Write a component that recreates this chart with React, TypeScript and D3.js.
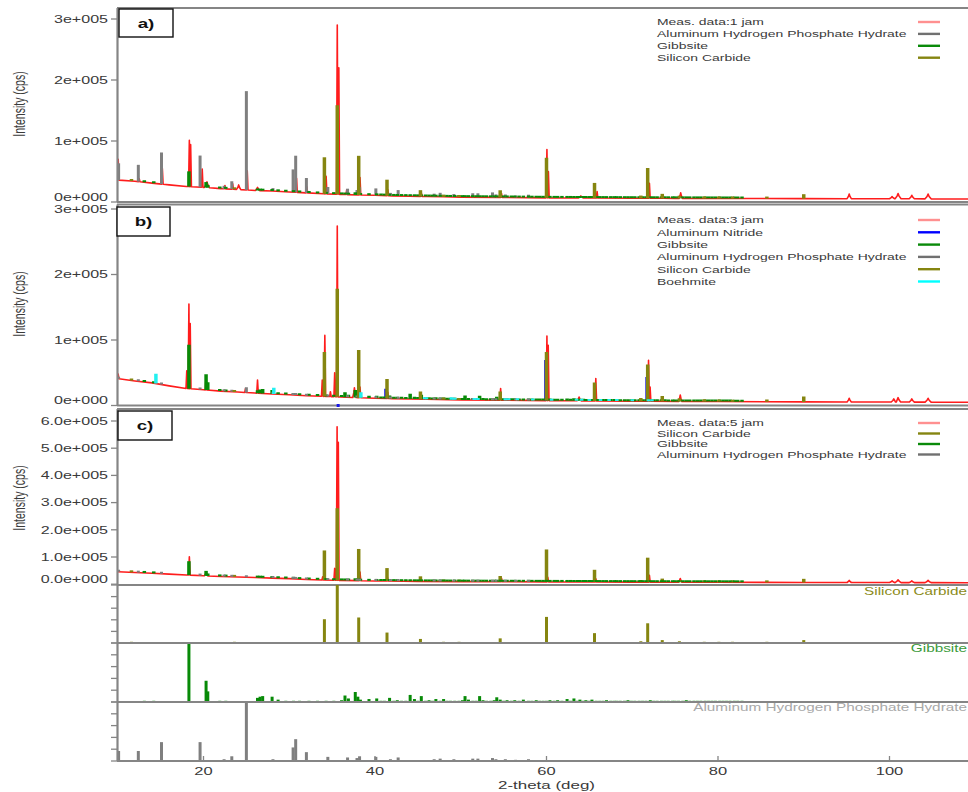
import React from 'react';
import * as d3 from 'd3';

type Pt = [number, number];
type Pk = [number, number, number?];

// ---------- data ----------
const TTH_DOMAIN: Pt = [10, 110];
const X_TICKS = [20, 40, 60, 80, 100];

const Y_TICKS_AB = [0, 100000, 200000, 300000];
const Y_LABELS_AB = ['0e+000', '1e+005', '2e+005', '3e+005'];
const Y_TICKS_C = [0, 100000, 200000, 300000, 400000, 500000, 600000];
const Y_LABELS_C = ['0.0e+000', '1.0e+005', '2.0e+005', '3.0e+005', '4.0e+005', '5.0e+005', '6.0e+005'];
const REF_TICKS = [0, 20, 40, 60, 80, 100];

// background of measured patterns [2theta, cps]
const BG_A: Pt[] = [[10, 36000], [12, 34000], [14, 31000], [16, 28000], [18, 25500], [20, 24000], [22, 22000], [24, 20500], [26, 19000], [28, 18000], [30, 16500], [32, 15000], [34, 13500], [36, 12500], [38, 11500], [40, 11000], [42, 10000], [44, 9500], [46, 9000], [48, 8500], [50, 8000], [55, 7500], [60, 6800], [65, 6500], [70, 6200], [75, 6000], [80, 5800], [90, 5500], [100, 5300], [110, 5000]];
const BG_B: Pt[] = [[10, 41000], [12, 37500], [14, 34500], [16, 30000], [18, 26000], [20, 24000], [22, 22000], [24, 20500], [26, 19000], [28, 17500], [30, 16500], [32, 15000], [34, 14000], [36, 13000], [38, 12000], [40, 11000], [42, 10500], [44, 10000], [46, 9500], [50, 8500], [55, 8000], [60, 7500], [65, 7000], [70, 6500], [80, 6000], [90, 5500], [100, 5300], [110, 5000]];
const BG_C: Pt[] = [[10, 46000], [12, 43000], [14, 40000], [16, 37000], [18, 34000], [20, 31000], [22, 28500], [24, 26500], [26, 24500], [28, 22500], [30, 20500], [32, 17500], [34, 15500], [36, 14000], [38, 13000], [40, 12000], [45, 10500], [50, 9500], [55, 9000], [60, 8500], [65, 8000], [70, 7500], [80, 7000], [90, 6500], [100, 6000], [110, 5500]];

// measured peak tops [2theta, cps, half-width deg (optional)]
const PEAKS_A: Pk[] = [[10.05, 70000], [12.5, 38000], [15.2, 55000], [18.35, 101000], [18.5, 94000], [19.85, 54000], [20.4, 33000, 0.3], [22.5, 27000], [23.4, 30000], [24.1, 28000, 0.25], [25.1, 51000], [26.3, 24000, 0.25], [30.85, 39000], [32.05, 25000], [34.3, 42000], [35.6, 290000], [35.78, 220000], [36.7, 20000], [38.25, 40000], [41.5, 20000], [45.4, 15000], [54.75, 14000], [60.05, 86000], [60.22, 50000], [64.0, 10000, 0.3], [65.9, 17000], [72.0, 30600], [73.6, 11000], [75.65, 15000, 0.2], [95.3, 13000, 0.25], [100.3, 9000, 0.3], [101.0, 14000, 0.35], [102.6, 11000, 0.3], [104.5, 13000, 0.35]];
const PEAKS_B: Pk[] = [[10.05, 48000], [18.05, 53000], [18.3, 155000], [18.45, 125000], [20.3, 45000], [24.9, 26000], [26.3, 39000], [33.85, 39000], [34.15, 107000], [34.8, 21000], [35.3, 50000], [35.6, 274000], [37.6, 27000, 0.2], [38.25, 28000], [41.5, 20000], [54.65, 26000], [60.05, 106000], [60.2, 92000], [63.8, 13000, 0.25], [65.75, 41000], [71.9, 69000], [72.08, 28000], [75.6, 16000, 0.2], [95.3, 11000, 0.25], [100.5, 10000, 0.3], [101.0, 12000, 0.3], [102.6, 10000, 0.3], [104.5, 11000, 0.35]];
const PEAKS_C: Pk[] = [[18.35, 101000], [20.3, 45000, 0.2], [33.9, 27000], [35.3, 58000], [35.58, 579000], [35.72, 522000], [38.25, 45000], [41.45, 25000], [54.75, 22000], [60.15, 25000], [65.75, 20000], [72.0, 33000], [75.6, 21000, 0.2], [95.3, 14000, 0.25], [100.3, 12000, 0.3], [101.0, 16000, 0.35], [102.6, 12000, 0.3], [104.5, 14000, 0.35]];

// reference patterns [2theta, relative intensity %]
const SIC_REF: Pt[] = [[11.6, 1], [23.6, 1], [34.1, 41], [35.6, 100], [38.1, 44], [41.4, 18], [45.3, 7], [48.0, 1], [49.8, 1], [54.6, 8], [60.0, 45], [65.6, 17], [71.0, 3], [71.8, 34], [73.5, 5], [75.5, 3], [78.4, 2], [80.1, 1], [81.7, 1], [85.7, 2], [90.0, 5]];
const GIBBSITE_REF: Pt[] = [[13.1, 1], [14.2, 1], [18.3, 100], [20.3, 36], [20.5, 18], [21.9, 1], [22.6, 1], [26.3, 7], [26.6, 9], [26.9, 10], [28.0, 9], [28.7, 4], [29.6, 1], [30.5, 1], [31.2, 1], [32.3, 2], [33.3, 2], [34.3, 1], [35.2, 1], [36.1, 3], [36.5, 11], [36.9, 6], [37.7, 17], [38.0, 9], [38.3, 4], [39.3, 5], [40.2, 6], [40.7, 2], [41.1, 2], [41.7, 7], [42.2, 2], [42.6, 3], [43.1, 2], [43.6, 2], [44.1, 12], [44.6, 5], [45.0, 2], [45.4, 10], [45.9, 2], [46.3, 3], [46.7, 2], [47.1, 5], [47.6, 2], [48.0, 5], [48.4, 2], [48.8, 2], [49.3, 2], [49.8, 2], [50.2, 3], [50.5, 10], [50.9, 4], [51.4, 2], [51.8, 2], [52.2, 10], [52.6, 3], [53.0, 2], [53.5, 2], [53.9, 3], [54.2, 8], [54.6, 4], [55.0, 2], [55.4, 3], [55.9, 2], [56.3, 3], [56.8, 2], [57.3, 4], [57.9, 2], [58.3, 2], [58.8, 3], [59.2, 2], [59.6, 2], [60.0, 2], [60.4, 3], [60.9, 2], [61.3, 3], [61.8, 2], [62.4, 5], [62.8, 2], [63.2, 6], [63.6, 2], [63.9, 4], [64.3, 2], [64.6, 3], [65.0, 2], [65.3, 4], [65.8, 2], [66.2, 2], [66.6, 2], [67.0, 3], [67.5, 2], [67.9, 2], [68.2, 2], [68.6, 2], [69.1, 2], [69.5, 3], [69.9, 2], [70.3, 2], [70.8, 2], [71.2, 2], [71.6, 2], [72.1, 3], [72.5, 2], [72.9, 2], [73.4, 2], [73.8, 2], [74.2, 2], [74.7, 2], [75.0, 2], [75.4, 2], [75.9, 2], [76.3, 3], [76.7, 2], [77.2, 2], [77.6, 2], [78.0, 2], [78.5, 2], [78.9, 2], [79.3, 2], [79.7, 2], [80.2, 2], [80.6, 2], [81.0, 2], [81.4, 2], [81.9, 2], [82.3, 2], [82.8, 1]];
const AHPH_REF: Pt[] = [[10.1, 17], [12.4, 17], [15.1, 32], [19.6, 32], [22.4, 3], [23.3, 8], [25.0, 100], [28.1, 3], [30.45, 23], [30.75, 37], [32.0, 15], [34.5, 7], [36.8, 6], [37.9, 5], [38.2, 8], [40.1, 7], [41.8, 3], [42.7, 6], [46.9, 3], [47.6, 4], [49.2, 3], [51.4, 4], [52.0, 4], [53.7, 5], [54.1, 3], [55.2, 3], [56.4, 2], [57.9, 3]];
const BOEHMITE_REF: Pt[] = [[14.45, 100], [28.2, 65], [38.35, 55], [45.8, 12], [46.0, 8], [48.9, 25], [49.3, 20], [51.6, 10], [52.0, 6], [55.2, 12], [55.6, 8], [56.6, 6], [58.4, 6], [60.6, 10], [63.5, 8], [64.1, 12], [65.0, 10], [66.3, 6], [67.3, 8], [68.2, 6], [70.0, 5], [71.9, 10], [72.3, 6]];
const ALN_REF: Pt[] = [[35.7, 0], [41.25, 24], [59.9, 100], [71.7, 60]];

// stick scale (cps for 100 %) of each phase in each measured panel
const SCALE_A = { ahph: 162000, gibbsite: 25000, sic: 146000 };
const SCALE_B = { aln: 62000, gibbsite: 67000, ahph: 8000, sic: 165000, boehmite: 15000 };
const SCALE_C = { sic: 265000, gibbsite: 51000, ahph: 6000 };

const LEGEND_A = ['Meas. data:1 jam', 'Aluminum Hydrogen Phosphate Hydrate', 'Gibbsite', 'Silicon Carbide'];
const LEGEND_B = ['Meas. data:3 jam', 'Aluminum Nitride', 'Gibbsite', 'Aluminum Hydrogen Phosphate Hydrate', 'Silicon Carbide', 'Boehmite'];
const LEGEND_C = ['Meas. data:5 jam', 'Silicon Carbide', 'Gibbsite', 'Aluminum Hydrogen Phosphate Hydrate'];

// ---------- style ----------
const FONT = '"Liberation Sans", Arial, sans-serif';
const SX = 1.5;
const C = {
  meas: '#ff1c1c',
  measLegend: '#ff9090',
  ahph: '#7f7f7f',
  gibbsite: '#078a07',
  sic: '#858510',
  aln: '#1515e8',
  boehmite: '#22f0f0',
  axis: '#858585',
  text: '#3a3a3a',
};
const LEGEND_COLORS: Record<string, string> = {
  'Aluminum Hydrogen Phosphate Hydrate': '#707070',
  Gibbsite: '#0a8a0a',
  'Silicon Carbide': '#858510',
  'Aluminum Nitride': '#0000ff',
  Boehmite: '#00ffff',
};

const W = 968;
const H = 792;
const x = d3.scaleLinear().domain(TTH_DOMAIN).range([117.75, 975.25]);

function T(props: { x: number; y: number; size: number; anchor?: string; fill?: string; weight?: string; children: React.ReactNode }) {
  const { x: tx, y: ty, size, anchor = 'start', fill = C.text, weight = 'normal', children } = props;
  return (
    <text transform={`translate(${tx},${ty}) scale(${SX},1)`} fontSize={size} textAnchor={anchor as any} fill={fill} fontWeight={weight} fontFamily={FONT}>
      {children}
    </text>
  );
}

const bgScale = (bg: Pt[]) => d3.scaleLinear().domain(bg.map(d => d[0])).range(bg.map(d => d[1])).clamp(true);

function measuredPath(bg: Pt[], peaks: Pk[], y: d3.ScaleLinear<number, number>) {
  const b = bgScale(bg);
  const hwDefault = 0.09;
  const pts: Pt[] = bg
    .filter(([t]) => !peaks.some(([p, , w]) => Math.abs(p - t) < (w ?? hwDefault) * 1.5))
    .map(d => [d[0], d[1]] as Pt);
  peaks.forEach(([p, v, w]) => {
    const hw = w ?? hwDefault;
    if (w) {
      pts.push([p - hw, b(p - hw)], [p - hw * 0.35, (b(p) + v) / 2], [p, v], [p + hw * 0.35, (b(p) + v) / 2], [p + hw, b(p + hw)]);
    } else {
      pts.push([p - hw, b(p - hw)], [p, v], [p + hw, b(p + hw)]);
    }
  });
  pts.sort((a, c) => a[0] - c[0]);
  return d3.line<Pt>().x(d => x(d[0])).y(d => y(d[1]))(pts) || '';
}

function Sticks(props: { data: Pt[]; scale: number; bg: Pt[]; y: d3.ScaleLinear<number, number>; color: string; width?: number; minPx?: number }) {
  const { data, scale, bg, y, color, width = 3.5, minPx = 2 } = props;
  const b = bgScale(bg);
  return (
    <g>
      {data.map(([t, r], i) => {
        const base = b(t);
        const y1 = y(base);
        let y2 = y(base + (r / 100) * scale);
        if (y1 - y2 < minPx) y2 = y1 - minPx;
        return <line key={i} x1={x(t)} x2={x(t)} y1={y1} y2={y2} stroke={color} strokeWidth={width} />;
      })}
    </g>
  );
}

function YAxis(props: { y: d3.ScaleLinear<number, number>; ticks: number[]; labels: string[] }) {
  const { y, ticks, labels } = props;
  return (
    <g>
      {ticks.map((t, i) => (
        <g key={i}>
          <line x1={111} x2={117} y1={y(t)} y2={y(t)} stroke={C.axis} strokeWidth={1.3} />
          <T x={108} y={y(t) + 3.8 - (t === 0 ? 5 : 0)} size={10.7} anchor="end">{labels[i]}</T>
        </g>
      ))}
    </g>
  );
}

function Frame(props: { top: number; bottom: number }) {
  const { top, bottom } = props;
  return (
    <g>
      <line x1={117} x2={W} y1={top} y2={top} stroke={C.axis} strokeWidth={2} />
      <line x1={117} x2={W} y1={bottom} y2={bottom} stroke={C.axis} strokeWidth={2} />
      <line x1={117.5} x2={117.5} y1={top} y2={bottom} stroke={C.axis} strokeWidth={2.2} />
    </g>
  );
}

function Legend(props: { labels: string[]; y0: number; dy: number }) {
  const { labels, y0, dy } = props;
  return (
    <g>
      {labels.map((l, i) => {
        const yy = y0 + i * dy;
        const col = i === 0 ? C.measLegend : LEGEND_COLORS[l];
        return (
          <g key={i}>
            <T x={657} y={yy + 3.3} size={9.3}>{l}</T>
            <line x1={918} x2={940} y1={yy} y2={yy} stroke={col} strokeWidth={2.4} />
          </g>
        );
      })}
    </g>
  );
}

function PanelLabel(props: { bx: number; by: number; bw: number; bh: number; label: string }) {
  const { bx, by, bw, bh, label } = props;
  return (
    <g>
      <rect x={bx} y={by} width={bw} height={bh} fill="#fff" stroke="#111" strokeWidth={1.4} />
      <T x={bx + bw / 2} y={by + bh / 2 + 4.5} size={12.5} anchor="middle" weight="bold" fill="#111">{label}</T>
    </g>
  );
}

function YTitle(props: { cy: number }) {
  return (
    <text transform={`translate(25,${props.cy}) scale(${SX},1) rotate(-90)`} fontSize={10.5} textAnchor="middle" fill={C.text} fontFamily={FONT}>
      Intensity (cps)
    </text>
  );
}

export default function App() {
  const yA = d3.scaleLinear().domain([0, 300000]).range([202, 19]);
  const yB = d3.scaleLinear().domain([0, 300000]).range([405.5, 209]);
  const yC = d3.scaleLinear().domain([0, 600000]).range([584.2, 421]);
  const ySic = d3.scaleLinear().domain([0, 100]).range([643, 585]);
  const yGib = d3.scaleLinear().domain([0, 100]).range([702, 643]);
  const yAh = d3.scaleLinear().domain([0, 100]).range([761, 702]);
  const ZERO_BG: Pt[] = [[10, 0], [110, 0]];

  return (
    <svg width={W} height={H} viewBox={`0 0 ${W} ${H}`} style={{ position: 'absolute', left: 0, top: 0, background: '#fff', display: 'block' }}>
      <defs>
        <clipPath id="cA"><rect x={118} y={8} width={W} height={194} /></clipPath>
        <clipPath id="cB"><rect x={118} y={204} width={W} height={201.5} /></clipPath>
        <clipPath id="cC"><rect x={118} y={409} width={W} height={176} /></clipPath>
      </defs>
      <rect x={0} y={0} width={W} height={H} fill="#fff" />

      {/* Panel a */}
      <g clipPath="url(#cA)">
        <path d={measuredPath(BG_A, PEAKS_A, yA)} fill="none" stroke={C.meas} strokeWidth={1.6} strokeLinejoin="round" />
        <Sticks data={AHPH_REF} scale={SCALE_A.ahph} bg={BG_A} y={yA} color={C.ahph} width={3} />
        <Sticks data={GIBBSITE_REF} scale={SCALE_A.gibbsite} bg={BG_A} y={yA} color={C.gibbsite} />
        <Sticks data={SIC_REF} scale={SCALE_A.sic} bg={BG_A} y={yA} color={C.sic} />
      </g>
      <Frame top={8} bottom={202} />
      <YAxis y={yA} ticks={Y_TICKS_AB} labels={Y_LABELS_AB} />
      <YTitle cy={104} />
      <PanelLabel bx={119} by={9} bw={54} bh={28} label="a)" />
      <Legend labels={LEGEND_A} y0={22} dy={11.9} />

      {/* Panel b */}
      <g clipPath="url(#cB)">
        <path d={measuredPath(BG_B, PEAKS_B, yB)} fill="none" stroke={C.meas} strokeWidth={1.6} strokeLinejoin="round" />
        <Sticks data={ALN_REF.filter(d => d[1] > 0)} scale={SCALE_B.aln} bg={BG_B} y={yB} color={C.aln} width={3} />
        <Sticks data={GIBBSITE_REF} scale={SCALE_B.gibbsite} bg={BG_B} y={yB} color={C.gibbsite} />
        <Sticks data={AHPH_REF} scale={SCALE_B.ahph} bg={BG_B} y={yB} color={C.ahph} width={3} />
        <Sticks data={SIC_REF} scale={SCALE_B.sic} bg={BG_B} y={yB} color={C.sic} />
        <Sticks data={BOEHMITE_REF} scale={SCALE_B.boehmite} bg={BG_B} y={yB} color={C.boehmite} />
      </g>
      <Frame top={204.5} bottom={405.5} />
      {ALN_REF.filter(d => d[1] === 0).map((d, i) => (
        <line key={i} x1={x(d[0])} x2={x(d[0])} y1={yB(0) + 1.5} y2={yB(0) - 1.5} stroke={C.aln} strokeWidth={3} />
      ))}
      <YAxis y={yB} ticks={Y_TICKS_AB} labels={Y_LABELS_AB} />
      <YTitle cy={304} />
      <PanelLabel bx={117} by={207} bw={53} bh={29} label="b)" />
      <Legend labels={LEGEND_B} y0={220} dy={12.3} />

      {/* Panel c */}
      <g clipPath="url(#cC)">
        <path d={measuredPath(BG_C, PEAKS_C, yC)} fill="none" stroke={C.meas} strokeWidth={1.6} strokeLinejoin="round" />
        <Sticks data={SIC_REF} scale={SCALE_C.sic} bg={BG_C} y={yC} color={C.sic} />
        <Sticks data={GIBBSITE_REF} scale={SCALE_C.gibbsite} bg={BG_C} y={yC} color={C.gibbsite} />
        <Sticks data={AHPH_REF} scale={SCALE_C.ahph} bg={BG_C} y={yC} color={C.ahph} width={3} />
      </g>
      <Frame top={409} bottom={585} />
      <YAxis y={yC} ticks={Y_TICKS_C} labels={Y_LABELS_C} />
      <YTitle cy={498} />
      <PanelLabel bx={118} by={411} bw={54} bh={29} label="c)" />
      <Legend labels={LEGEND_C} y0={423} dy={10.5} />

      {/* Reference stick panels */}
      <Sticks data={SIC_REF} scale={100} bg={ZERO_BG} y={ySic} color={C.sic} width={3} minPx={1.2} />
      <Sticks data={GIBBSITE_REF} scale={100} bg={ZERO_BG} y={yGib} color={C.gibbsite} width={3} minPx={1.2} />
      <Sticks data={AHPH_REF} scale={100} bg={ZERO_BG} y={yAh} color={C.ahph} width={3} minPx={1.2} />
      {[ySic, yGib, yAh].map((ys, k) => (
        <g key={k}>
          <line x1={117} x2={W} y1={ys(0)} y2={ys(0)} stroke={C.axis} strokeWidth={1.8} />
          {REF_TICKS.map((t, i) => (
            <line key={i} x1={111} x2={117} y1={ys(t)} y2={ys(t)} stroke={C.axis} strokeWidth={1.3} />
          ))}
        </g>
      ))}
      <line x1={117.5} x2={117.5} y1={585} y2={761} stroke={C.axis} strokeWidth={2.2} />
      <T x={967} y={595} size={10.2} anchor="end" fill="#8c8c1a">Silicon Carbide</T>
      <T x={967} y={652} size={10.2} anchor="end" fill="#3a9a3a">Gibbsite</T>
      <T x={967} y={711} size={10.2} anchor="end" fill="#a8a8a8">Aluminum Hydrogen Phosphate Hydrate</T>

      {/* X axis */}
      {X_TICKS.map((t, i) => (
        <g key={i}>
          <line x1={x(t)} x2={x(t)} y1={761} y2={756} stroke={C.axis} strokeWidth={1.3} />
          <T x={x(t)} y={775} size={11} anchor="middle">{t}</T>
        </g>
      ))}
      <T x={(x(10) + x(110)) / 2} y={789} size={11.3} anchor="middle">2-theta (deg)</T>
    </svg>
  );
}
